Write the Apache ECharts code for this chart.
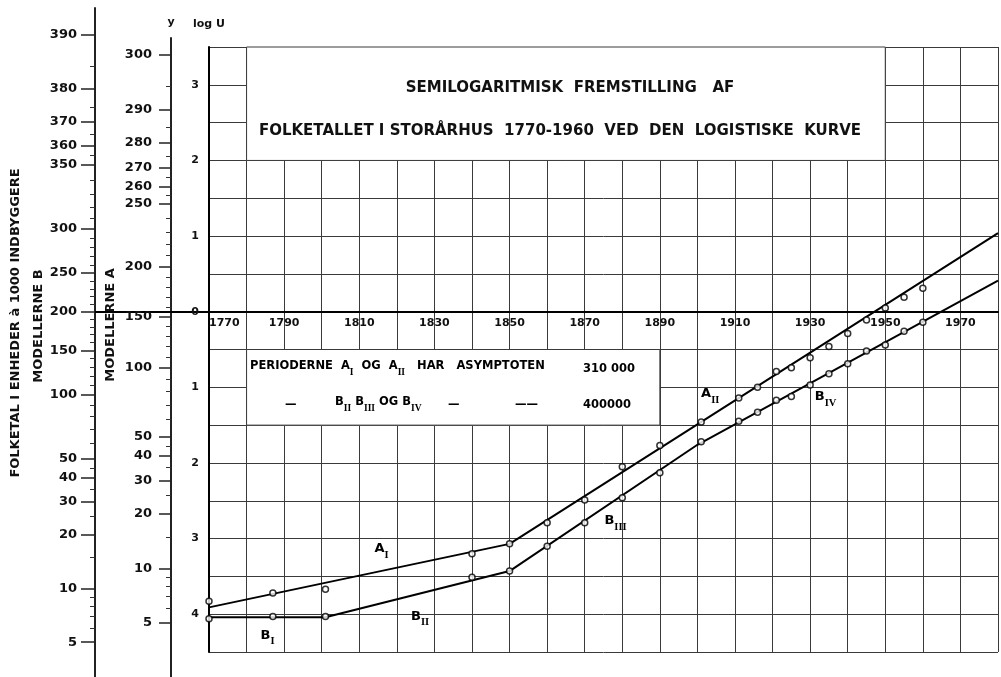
<!DOCTYPE html>
<html><head><meta charset="utf-8">
<script src="https://cdn.jsdelivr.net/npm/echarts@6/dist/echarts.min.js"></script>
<style>html,body{margin:0;padding:0;background:#fff}#c{width:1001px;height:677px}</style>
</head><body><div id="c"></div>
<script>
// ---------------- data ----------------
const xLabelYears = [1770,1790,1810,1830,1850,1870,1890,1910,1930,1950,1970];
const logUTicks = [3,2,1,0,-1,-2,-3,-4];

const obsYearsA  = [1770,1787,1801,1840,1850,1860,1870,1880,1890,1901,1911,1916,1921,1925,1930,1935,1940,1945,1950,1955,1960];
const obsValuesA = [-3.83,-3.72,-3.67,-3.20,-3.07,-2.79,-2.49,-2.05,-1.77,-1.46,-1.14,-1.00,-0.79,-0.74,-0.61,-0.46,-0.29,-0.11,0.05,0.19,0.31];
const obsYearsB  = [1770,1787,1801,1840,1850,1860,1870,1880,1890,1901,1911,1916,1921,1925,1930,1935,1940,1945,1950,1955,1960];
const obsValuesB = [-4.06,-4.03,-4.03,-3.51,-3.43,-3.10,-2.79,-2.46,-2.13,-1.72,-1.45,-1.33,-1.17,-1.12,-0.97,-0.82,-0.69,-0.52,-0.44,-0.26,-0.14];

// fitted logistic curves (straight segments in log U)
const modelYearsA  = [1770,1850,1980];
const modelValuesA = [-3.91,-3.07,1.04];
const modelYearsB  = [1770,1801,1850,1900,1980];
const modelValuesB = [-4.04,-4.04,-3.43,-1.76,0.41];

// population scales (thousands)
const asymptoteA = 310, asymptoteB = 400;
const tickLabelsA = [300,290,280,270,260,250,200,150,100,50,40,30,20,10,5];
const minorTicksA = [6,7,8,9,15,25,35,45,60,70,80,90,110,120,130,140,160,170,180,190,210,220,230,240,255,265,275,285,295];
const tickLabelsB = [390,380,370,360,350,300,250,200,150,100,50,40,30,20,10,5];
const minorTicksB = [6,7,8,9,15,25,35,45,60,70,80,90,110,120,130,140,160,170,180,190,210,220,230,240,260,270,280,290,310,320,330,340,355,365,375,385];

// curve labels
const curveLabelNames  = ['A','A','B','B','B','B'];
const curveLabelSubs   = ['I','II','I','II','III','IV'];
const curveLabelYears  = [1815.9,1903.4,1785.6,1826.2,1878.2,1934.1];
const curveLabelValues = [-3.17,-1.12,-4.31,-4.06,-2.80,-1.16];

// ---------------- helpers ----------------
const logit = (y, K) => Math.log(y / (K - y));
const inv = (v, K) => K / (1 + Math.exp(-v));
const zip = (a, b) => a.map((x, i) => [x, b[i]]);

const W = 1001, H = 677;
const G = {left: 209, top: 47, bottom: 25};
const vMin = -4.5, vMax = 3.5;
const pxPerUnit = (H - G.top - G.bottom) / (vMax - vMin);
const extMin = vMin - G.bottom / pxPerUnit;
const maxFor = top => vMax + (G.top - top) / pxPerUnit;
const zeroOffset = -(0 - vMin) * pxPerUnit;

const FONT = 'DejaVu Sans';
const INK = '#111';
const GRIDC = '#3a3a3a';

const rich = {
  m: {fontSize: 13, fontWeight: 'bold', fontFamily: FONT, color: '#000', lineHeight: 13, verticalAlign: 'top'},
  s: {fontSize: 10.5, fontWeight: 'bold', fontFamily: 'Liberation Serif', color: '#000', lineHeight: 18, verticalAlign: 'bottom'}
};
const richL = {
  m: {fontSize: 11.5, fontWeight: 'bold', fontFamily: FONT, color: INK, lineHeight: 12, verticalAlign: 'top'},
  s: {fontSize: 9.5, fontWeight: 'bold', fontFamily: 'Liberation Serif', color: INK, lineHeight: 17, verticalAlign: 'bottom'}
};

function sideAxis(gridIndex, top, opts) {
  return Object.assign({
    type: 'value', gridIndex, min: extMin, max: maxFor(top), position: 'left',
    splitLine: {show: false}, axisLine: {show: false, onZero: false},
    axisTick: {show: false}, axisLabel: {show: false}
  }, opts);
}

const labelFont = {fontSize: 13, fontWeight: 'bold', fontFamily: FONT, color: INK};

const option = {
  animation: false,
  backgroundColor: '#fff',
  grid: [
    {left: G.left, right: 0, top: G.top, bottom: G.bottom},
    {left: 171, width: 10, top: 38, bottom: 0},
    {left: 95, width: 10, top: 8, bottom: 0}
  ],
  xAxis: [
    {type: 'value', gridIndex: 0, min: 1770, max: 1980, interval: 10,
      position: 'bottom', offset: zeroOffset,
      axisLine: {onZero: false, lineStyle: {color: '#000', width: 2}},
      axisTick: {show: false},
      splitLine: {show: true, lineStyle: {color: GRIDC, width: 1}},
      axisLabel: {margin: 6, fontSize: 11, fontWeight: 'bold', fontFamily: FONT, color: INK,
        alignMinLabel: 'left',
        formatter: v => xLabelYears.includes(v) ? String(v) : ''}},
    {type: 'value', gridIndex: 1, min: 0, max: 1, show: false},
    {type: 'value', gridIndex: 2, min: 0, max: 1, show: false}
  ],
  yAxis: [
    {type: 'value', gridIndex: 0, min: vMin, max: vMax, interval: 0.5,
      name: 'log U', nameLocation: 'end', nameGap: 17,
      nameTextStyle: {fontSize: 11, fontWeight: 'bold', fontFamily: FONT, color: INK, align: 'center'},
      axisLine: {show: true, onZero: false, lineStyle: {color: '#000', width: 2}},
      axisTick: {show: false},
      splitLine: {show: true, lineStyle: {color: GRIDC, width: 1}},
      axisLabel: {margin: 10, fontSize: 11, fontWeight: 'bold', fontFamily: FONT, color: INK,
        formatter: v => logUTicks.includes(v) ? String(Math.abs(v)) : ''}},
    // Model A scale
    sideAxis(1, 38, {
      name: 'y', nameLocation: 'end', nameGap: 10,
      nameTextStyle: {fontSize: 11, fontWeight: 'bold', fontFamily: FONT, color: INK, align: 'center'},
      axisLine: {show: true, onZero: false, lineStyle: {color: '#222', width: 2}},
      axisTick: {show: true, length: 12, lineStyle: {color: '#222', width: 1.5},
        customValues: tickLabelsA.map(y => logit(y, asymptoteA))},
      axisLabel: {show: true, margin: 19, ...labelFont,
        customValues: tickLabelsA.map(y => logit(y, asymptoteA)),
        formatter: v => String(Math.round(inv(v, asymptoteA)))}
    }),
    sideAxis(1, 38, {
      axisTick: {show: true, length: 5, lineStyle: {color: '#333', width: 1},
        customValues: minorTicksA.map(y => logit(y, asymptoteA))}
    }),
    sideAxis(1, 38, {
      axisTick: {show: true, inside: true, length: 38, lineStyle: {color: '#000', width: 2},
        customValues: [0]}
    }),
    // Model B scale
    sideAxis(2, 8, {
      axisLine: {show: true, onZero: false, lineStyle: {color: '#222', width: 2}},
      axisTick: {show: true, length: 14, lineStyle: {color: '#222', width: 1.5},
        customValues: tickLabelsB.map(y => logit(y, asymptoteB))},
      axisLabel: {show: true, margin: 18, ...labelFont,
        customValues: tickLabelsB.map(y => logit(y, asymptoteB)),
        formatter: v => String(Math.round(inv(v, asymptoteB)))}
    }),
    sideAxis(2, 8, {
      axisTick: {show: true, length: 5, lineStyle: {color: '#333', width: 1},
        customValues: minorTicksB.map(y => logit(y, asymptoteB))}
    }),
    sideAxis(2, 8, {
      axisTick: {show: true, inside: true, length: 76, lineStyle: {color: '#000', width: 2},
        customValues: [0]}
    })
  ],
  series: [
    {type: 'line', name: 'Model A', xAxisIndex: 0, yAxisIndex: 0,
      data: zip(modelYearsA, modelValuesA), symbol: 'none',
      lineStyle: {color: '#000', width: 2}, z: 3,
      markArea: {silent: true,
        itemStyle: {color: '#fff', borderColor: GRIDC, borderWidth: 1},
        data: [
          [{coord: [1780, 3.5]}, {coord: [1950, 2]}],
          [{coord: [1780, -0.5]}, {coord: [1890, -1.5]}]
        ]}},
    {type: 'line', name: 'Model B', xAxisIndex: 0, yAxisIndex: 0,
      data: zip(modelYearsB, modelValuesB), symbol: 'none',
      lineStyle: {color: '#000', width: 2}, z: 3},
    {type: 'scatter', name: 'Obs A', xAxisIndex: 0, yAxisIndex: 0,
      data: zip(obsYearsA, obsValuesA), symbol: 'circle', symbolSize: 6, z: 4,
      itemStyle: {color: '#fff', borderColor: '#000', borderWidth: 1.5}},
    {type: 'scatter', name: 'Obs B', xAxisIndex: 0, yAxisIndex: 0,
      data: zip(obsYearsB, obsValuesB), symbol: 'circle', symbolSize: 6, z: 4,
      itemStyle: {color: '#fff', borderColor: '#000', borderWidth: 1.5}},
    {type: 'scatter', name: 'labels', xAxisIndex: 0, yAxisIndex: 0, silent: true,
      data: curveLabelYears.map((y, i) => [y, curveLabelValues[i], curveLabelNames[i], curveLabelSubs[i]]),
      symbolSize: 2, itemStyle: {color: 'rgba(255,255,255,0)'}, z: 5,
      label: {show: true, position: 'inside', color: '#000', opacity: 1, textBorderWidth: 0,
        formatter: p => `{m|${p.data[2]}}{s|${p.data[3]}}`, rich}}
  ],
  graphic: [
    {type: 'text', x: 16, y: 323, rotation: Math.PI / 2,
      style: {text: 'FOLKETAL I ENHEDER à 1000 INDBYGGERE', font: `bold 13px "${FONT}"`, fill: INK, align: 'center', verticalAlign: 'middle'}},
    {type: 'text', x: 39, y: 326, rotation: Math.PI / 2,
      style: {text: 'MODELLERNE B', font: `bold 13px "${FONT}"`, fill: INK, align: 'center', verticalAlign: 'middle'}},
    {type: 'text', x: 111, y: 325, rotation: Math.PI / 2,
      style: {text: 'MODELLERNE A', font: `bold 13px "${FONT}"`, fill: INK, align: 'center', verticalAlign: 'middle'}},
    {type: 'text', x: 570, y: 88, z: 10,
      style: {text: 'SEMILOGARITMISK  FREMSTILLING   AF', font: `bold 15px "${FONT}"`, fill: INK, align: 'center', verticalAlign: 'middle'}},
    {type: 'text', x: 560, y: 131, z: 10,
      style: {text: 'FOLKETALLET I STORÅRHUS  1770-1960  VED  DEN  LOGISTISKE  KURVE', font: `bold 15px "${FONT}"`, fill: INK, align: 'center', verticalAlign: 'middle'}},
    {type: 'text', x: 250, y: 369, z: 10,
      style: {text: '{m|PERIODERNE  A}{s|I}{m|  OG  A}{s|II}{m|   HAR   ASYMPTOTEN}', rich: richL, align: 'left', verticalAlign: 'middle'}},
    {type: 'text', x: 583, y: 369, z: 10,
      style: {text: '{m|310 000}', rich: richL, align: 'left', verticalAlign: 'middle'}},
    {type: 'text', x: 285, y: 405, z: 10,
      style: {text: '{m|—}', rich: richL, align: 'left', verticalAlign: 'middle'}},
    {type: 'text', x: 335, y: 405, z: 10,
      style: {text: '{m|B}{s|II}{m| B}{s|III}{m| OG B}{s|IV}', rich: richL, align: 'left', verticalAlign: 'middle'}},
    {type: 'text', x: 448, y: 405, z: 10,
      style: {text: '{m|—}', rich: richL, align: 'left', verticalAlign: 'middle'}},
    {type: 'text', x: 515, y: 405, z: 10,
      style: {text: '{m|——}', rich: richL, align: 'left', verticalAlign: 'middle'}},
    {type: 'text', x: 583, y: 405, z: 10,
      style: {text: '{m|400000}', rich: richL, align: 'left', verticalAlign: 'middle'}}
  ]
};

const chart = echarts.init(document.getElementById('c'), null, {renderer: 'canvas'});
chart.setOption(option);
</script>
</body></html>
